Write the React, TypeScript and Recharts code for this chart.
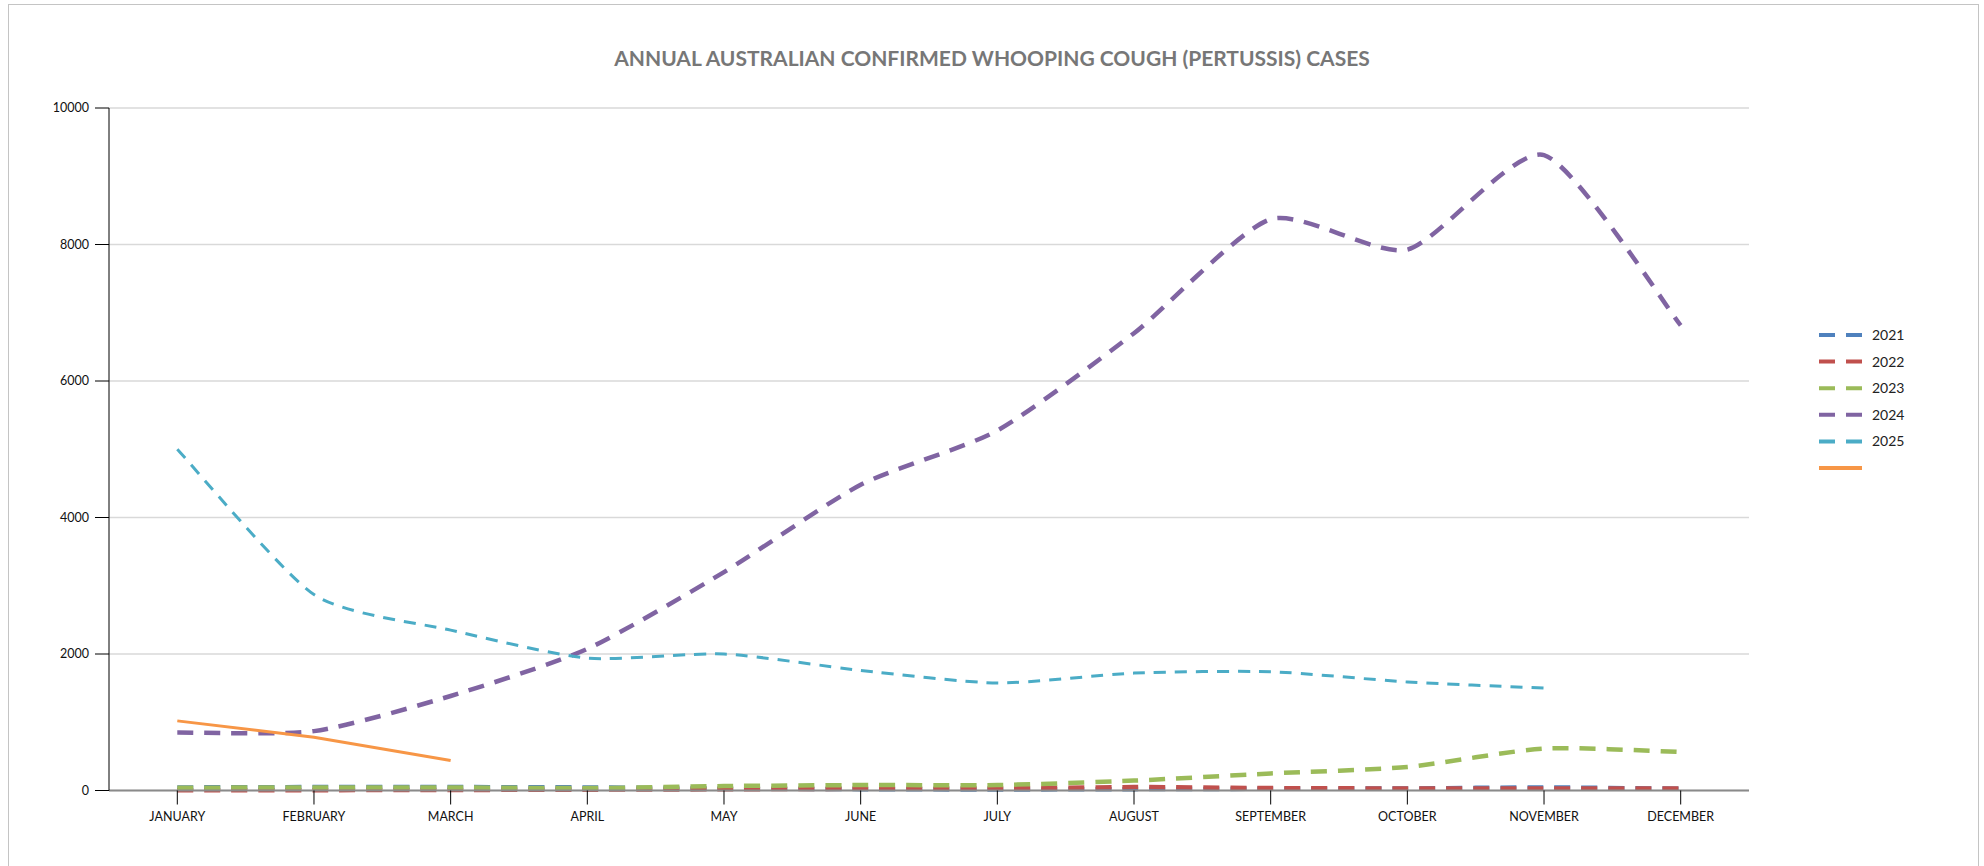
import { LineChart, Line, XAxis, YAxis, CartesianGrid, Legend } from "recharts";

const months = [
  "JANUARY", "FEBRUARY", "MARCH", "APRIL", "MAY", "JUNE",
  "JULY", "AUGUST", "SEPTEMBER", "OCTOBER", "NOVEMBER", "DECEMBER",
];

const cases2021 = [45, 50, 50, 45, 30, 20, 15, 20, 25, 30, 45, 25];
const cases2022 = [5, 5, 8, 12, 18, 25, 30, 50, 35, 30, 30, 28];
const cases2023 = [40, 45, 45, 35, 65, 80, 80, 145, 250, 345, 615, 565];
const cases2024 = [850, 870, 1385, 2075, 3200, 4480, 5275, 6700, 8370, 7925, 9310, 6815];
const cases2025 = [5000, 2870, 2350, 1940, 2000, 1760, 1575, 1720, 1740, 1590, 1500, null];
const current = [1020, 780, 440];

const yTicks = [0, 2000, 4000, 6000, 8000, 10000];

const series = [
  { key: "y2021", label: "2021", color: "#4F81BD", values: cases2021, dashed: true },
  { key: "y2022", label: "2022", color: "#C0504D", values: cases2022, dashed: true },
  { key: "y2023", label: "2023", color: "#9BBB59", values: cases2023, dashed: true },
  { key: "y2024", label: "2024", color: "#8064A2", values: cases2024, dashed: true },
  { key: "y2025", label: "2025", color: "#4BACC6", values: cases2025, dashed: true, thin: true },
  { key: "current", label: "", color: "#F79646", values: current, dashed: false },
];

const data = months.map((m, i) => {
  const row: Record<string, string | number | null> = { month: m };
  series.forEach((s) => {
    const v = s.values[i];
    row[s.key] = v === undefined ? null : v;
  });
  return row;
});

const font = "Lato, 'Open Sans', sans-serif";

// spreadsheet-style smoothing (light catmull-rom through every point)
const K = 1 / 9;
const smooth = (context: any) => {
  let pts: number[][] = [];
  const flush = () => {
    if (!pts.length) return;
    context.moveTo(pts[0][0], pts[0][1]);
    for (let i = 0; i < pts.length - 1; i++) {
      const p0 = pts[i - 1] || pts[i];
      const p1 = pts[i];
      const p2 = pts[i + 1];
      const p3 = pts[i + 2] || p2;
      context.bezierCurveTo(
        p1[0] + (p2[0] - p0[0]) * K,
        p1[1] + (p2[1] - p0[1]) * K,
        p2[0] - (p3[0] - p1[0]) * K,
        p2[1] - (p3[1] - p1[1]) * K,
        p2[0],
        p2[1]
      );
    }
  };
  return {
    areaStart() {},
    areaEnd() {},
    lineStart() {
      pts = [];
    },
    lineEnd() {
      flush();
      pts = [];
    },
    point(x: number, y: number) {
      pts.push([+x, +y]);
    },
  };
};

function LegendBox() {
  return (
    <svg width={90} height={160}>
      {series.map((s, i) => {
        const y = 8 + i * 26.6;
        return (
          <g key={s.key}>
            <line
              x1={0}
              x2={43}
              y1={y}
              y2={y}
              stroke={s.color}
              strokeWidth={4}
              strokeDasharray={s.dashed ? "16 11" : undefined}
            />
            <text x={53} y={y + 5} fontSize={14} fontFamily={font} fill="#222">
              {s.label}
            </text>
          </g>
        );
      })}
    </svg>
  );
}

export default function App() {
  return (
    <div style={{ position: "relative", width: 1984, height: 866, overflow: "hidden", background: "#fff" }}>
      <style>{`body{margin:0}`}</style>
      <div
        style={{
          position: "absolute",
          left: 8,
          top: 4,
          width: 1969,
          height: 900,
          border: "1.5px solid #c4c4c4",
        }}
      />
      <div
        style={{
          position: "absolute",
          top: 45,
          left: 0,
          width: 1984,
          textAlign: "center",
          fontFamily: font,
          fontWeight: 700,
          fontSize: 21,
          color: "#777",
        }}
      >
        ANNUAL AUSTRALIAN CONFIRMED WHOOPING COUGH (PERTUSSIS) CASES
      </div>
      <div style={{ position: "absolute", left: 0, top: 0 }}>
        <LineChart
          width={1984}
          height={866}
          data={data}
          margin={{ top: 108, right: 235, left: 49, bottom: 35.5 }}
        >
          <CartesianGrid vertical={false} stroke="#d9d9d9" strokeWidth={1.5} />
          <XAxis
            dataKey="month"
            height={40}
            tickSize={14}
            tickMargin={8}
            interval={0}
            padding={{ left: 68.3, right: 68.3 }}
            axisLine={{ stroke: "#8a8a8a", strokeWidth: 2 }}
            tickLine={{ stroke: "#000" }}
            tick={{ fill: "#111", fontSize: 12.5, fontFamily: font }}
          />
          <YAxis
            width={60}
            domain={[0, 10000]}
            ticks={yTicks}
            tickSize={14}
            tickMargin={6}
            axisLine={{ stroke: "#000" }}
            tickLine={{ stroke: "#000" }}
            tick={{ fill: "#111", fontSize: 12.5, fontFamily: font }}
          />
          <Legend
            layout="vertical"
            align="center"
            verticalAlign="middle"
            wrapperStyle={{ left: 1819, top: 327 }}
            content={() => <LegendBox />}
          />
          {series.map((s) => (
            <Line
              key={s.key}
              dataKey={s.key}
              name={s.label}
              type={s.dashed ? (smooth as any) : "linear"}
              stroke={s.color}
              strokeWidth={s.thin ? 3 : s.dashed ? 4.5 : 3}
              strokeDasharray={s.dashed ? (s.thin ? "12 9" : "16 11") : undefined}
              dot={false}
              activeDot={false}
              connectNulls={false}
              isAnimationActive={false}
            />
          ))}
        </LineChart>
      </div>
    </div>
  );
}
